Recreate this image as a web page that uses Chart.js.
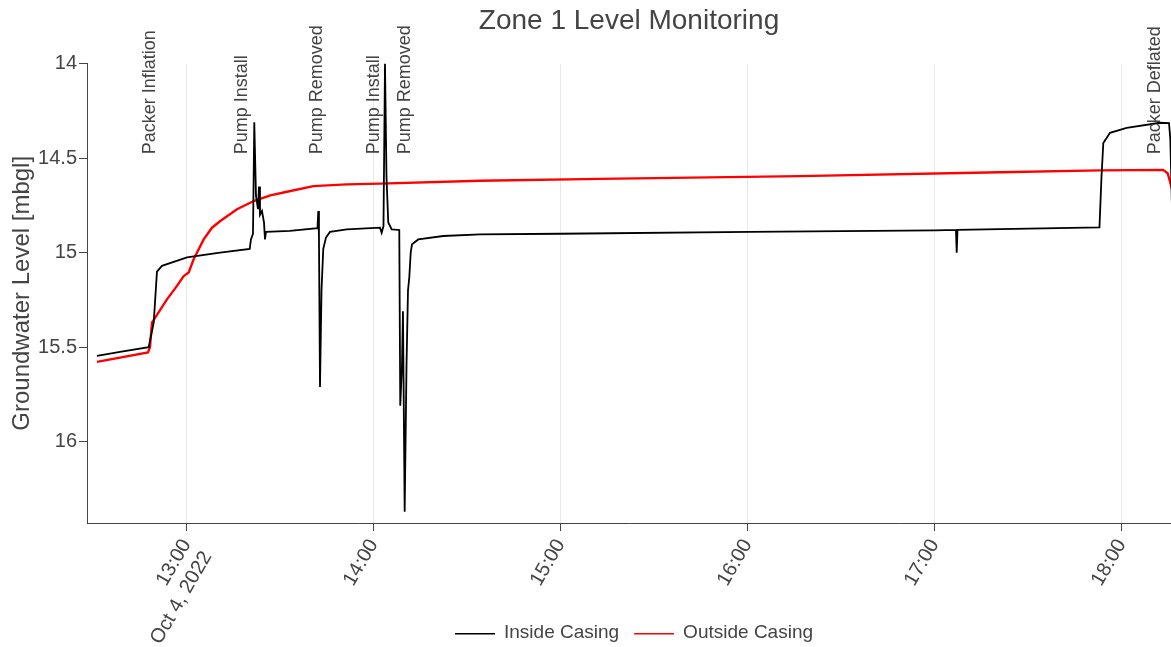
<!DOCTYPE html>
<html>
<head>
<meta charset="utf-8">
<title>Zone 1 Level Monitoring</title>
<script src="https://cdn.jsdelivr.net/npm/chart.js@4.4.1/dist/chart.umd.min.js"></script>
<style>
    html, body { margin: 0; padding: 0; background: #fff; }
</style>
</head>
<body>
<canvas id="levelChart" width="1171" height="647"></canvas>
<script>
// Inside casing logger (black)
const insideTimes = [
    "12:31:17", "12:38:40", "12:47:52", "12:49:29", "12:50:32", "12:52:08", "13:00:10", "13:10:45",
    "13:20:17", "13:20:41", "13:21:20", "13:21:45", "13:22:18", "13:22:56", "13:23:16", "13:23:35",
    "13:24:13", "13:24:52", "13:25:11", "13:25:30", "13:33:12", "13:42:02", "13:42:17", "13:42:30",
    "13:42:50", "13:43:19", "13:43:53", "13:44:45", "13:46:02", "13:51:24", "14:02:05", "14:02:37",
    "14:03:12", "14:03:41", "14:04:10", "14:04:44", "14:05:50", "14:08:16", "14:08:35", "14:09:08",
    "14:09:27", "14:10:00", "14:10:35", "14:11:04", "14:11:29", "14:11:56", "14:12:21", "14:14:22",
    "14:22:23", "14:34:10", "14:59:50", "16:00:47", "17:00:08", "17:06:52", "17:07:06", "17:07:21",
    "17:52:54", "17:53:33", "17:54:08", "17:56:17", "18:01:38", "18:12:19", "18:15:13", "18:15:38",
    "18:16:48"
];
const insideLevels = [
    15.546, 15.525, 15.50, 15.37, 15.10, 15.07, 15.025, 15.0,
    14.98, 14.93, 14.90, 14.31, 14.70, 14.77, 14.65, 14.80,
    14.78, 14.84, 14.93, 14.89, 14.885, 14.87, 14.78, 14.92,
    15.71, 15.20, 14.98, 14.92, 14.89, 14.877, 14.868, 14.895,
    14.86, 14.00, 14.60, 14.84, 14.877, 14.88, 15.81, 15.60,
    15.31, 16.37, 15.60, 15.20, 15.13, 15.0, 14.956, 14.93,
    14.912, 14.903, 14.90, 14.89, 14.882, 14.88, 15.0, 14.88,
    14.866, 14.60, 14.42, 14.366, 14.34, 14.313, 14.315, 14.40,
    15.20
];

// Outside casing logger (red)
const outsideTimes = [
    "12:31:17", "12:47:39", "12:48:17", "12:48:56", "12:53:44", "12:56:57", "12:59:06", "13:00:42",
    "13:02:18", "13:05:31", "13:08:11", "13:10:51", "13:16:12", "13:21:34", "13:26:53", "13:32:15",
    "13:40:41", "13:51:24", "14:02:05", "14:34:10", "15:12:40", "16:16:49", "17:20:59", "17:53:04",
    "18:13:17", "18:14:47", "18:17:08"
];
const outsideLevels = [
    15.578, 15.528, 15.50, 15.37, 15.247, 15.176, 15.124, 15.105,
    15.035, 14.93, 14.868, 14.833, 14.77, 14.727, 14.697, 14.678,
    14.648, 14.639, 14.635, 14.62, 14.61, 14.595, 14.575, 14.565,
    14.562, 14.58, 14.72
];

const tickTimes = ["13:00", "14:00", "15:00", "16:00", "17:00", "18:00"];
const dateLabel = "Oct 4, 2022";
const yTicks = [14, 14.5, 15, 15.5, 16];
const xMin = "12:28:05";
const xMax = "18:15:51";
const yMin = 14;
const yMax = 16.43;

// Field events
const eventTimes = ["12:48:17", "13:17:49", "13:41:52", "14:00:10", "14:10:06", "18:10:44"];
const eventLabels = ["Packer Inflation", "Pump Install", "Pump Removed", "Pump Install", "Pump Removed", "Packer Deflated"];
const eventLevel = 14.48;

const FONT = "'Liberation Sans', Arial, sans-serif";
const TEXT = "#444";

function toMinutes(s) {
    let p = s.split(":").map(Number);
    return p[0] * 60 + p[1] + (p[2] || 0) / 60;
}

function toPoints(times, levels) {
    return times.map((t, i) => ({ x: toMinutes(t), y: levels[i] }));
}

// vertical event labels above the traces
const eventLabelPlugin = {
    id: "eventLabels",
    afterDraw(chart) {
        let ctx = chart.ctx;
        let xs = chart.scales.x, ys = chart.scales.y;
        ctx.save();
        ctx.font = "18px " + FONT;
        ctx.fillStyle = TEXT;
        ctx.textAlign = "left";
        ctx.textBaseline = "middle";
        eventTimes.forEach((t, i) => {
            ctx.save();
            ctx.translate(xs.getPixelForValue(toMinutes(t)), ys.getPixelForValue(eventLevel));
            ctx.rotate(-Math.PI / 2);
            ctx.fillText(eventLabels[i], 0, 0);
            ctx.restore();
        });
        ctx.restore();
    }
};

// legend under the axis labels (the built-in one would push the plot up)
const bottomLegendPlugin = {
    id: "bottomLegend",
    afterDraw(chart) {
        let ctx = chart.ctx;
        let area = chart.chartArea;
        let sample = 40, gap = 9, between = 15, y = 633;
        ctx.save();
        ctx.font = "19px " + FONT;
        ctx.textBaseline = "middle";
        ctx.textAlign = "left";
        let sets = chart.data.datasets;
        let widths = sets.map(d => ctx.measureText(d.label).width);
        let total = widths.reduce((a, w) => a + sample + gap + w, 0) + between * (sets.length - 1);
        let x = Math.round((area.left + area.right) / 2 + 5 - total / 2);
        sets.forEach((d, i) => {
            ctx.fillStyle = d.borderColor;
            ctx.fillRect(x, y, sample, 1.5);
            ctx.fillStyle = TEXT;
            ctx.fillText(d.label, x + sample + gap, y);
            x += sample + gap + widths[i] + between;
        });
        ctx.restore();
    }
};

let ctx = document.getElementById("levelChart").getContext("2d");
let levelChart = new Chart(ctx, {
    type: "line",
    data: {
        datasets: [{
            label: "Inside Casing",
            data: toPoints(insideTimes, insideLevels),
            borderColor: "#000",
            backgroundColor: "#000",
            borderWidth: 1.8
        }, {
            label: "Outside Casing",
            data: toPoints(outsideTimes, outsideLevels),
            borderColor: "#ff0000",
            backgroundColor: "#ff0000",
            borderWidth: 2.4
        }]
    },
    options: {
        responsive: false,
        animation: false,
        parsing: false,
        elements: { point: { radius: 0 }, line: { tension: 0 } },
        layout: { padding: 0 },
        scales: {
            x: {
                type: "linear",
                min: toMinutes(xMin),
                max: toMinutes(xMax),
                afterBuildTicks: axis => { axis.ticks = tickTimes.map(t => ({ value: toMinutes(t) })); },
                afterFit: axis => { axis.height = 124; },
                border: { color: TEXT, width: 1 },
                grid: { color: "#e8e8e8", lineWidth: 1, tickColor: TEXT, tickLength: 8 },
                ticks: {
                    autoSkip: false,
                    minRotation: 60,
                    maxRotation: 60,
                    color: TEXT,
                    font: { family: FONT, size: 20 },
                    padding: 4,
                    callback: (value, index) => index === 0 ? [tickTimes[0], dateLabel] : tickTimes[index]
                }
            },
            y: {
                reverse: true,
                min: yMin,
                max: yMax,
                afterBuildTicks: axis => { axis.ticks = yTicks.map(v => ({ value: v })); },
                afterFit: axis => { axis.width = 87; },
                border: { color: TEXT, width: 1 },
                grid: { drawOnChartArea: false, tickColor: TEXT, tickLength: 8 },
                ticks: {
                    color: TEXT,
                    font: { family: FONT, size: 20 },
                    padding: 2,
                    callback: value => String(value)
                },
                title: {
                    display: true,
                    text: "Groundwater Level [mbgl]",
                    color: TEXT,
                    font: { family: FONT, size: 24 },
                    padding: { top: 8, bottom: 0 }
                }
            }
        },
        plugins: {
            title: {
                display: true,
                fullSize: false,
                text: "Zone 1 Level Monitoring",
                color: TEXT,
                font: { family: FONT, size: 28, weight: "normal" },
                padding: { top: 4, bottom: 26 }
            },
            legend: { display: false },
            tooltip: { enabled: false }
        }
    },
    plugins: [eventLabelPlugin, bottomLegendPlugin]
});
</script>
</body>
</html>
